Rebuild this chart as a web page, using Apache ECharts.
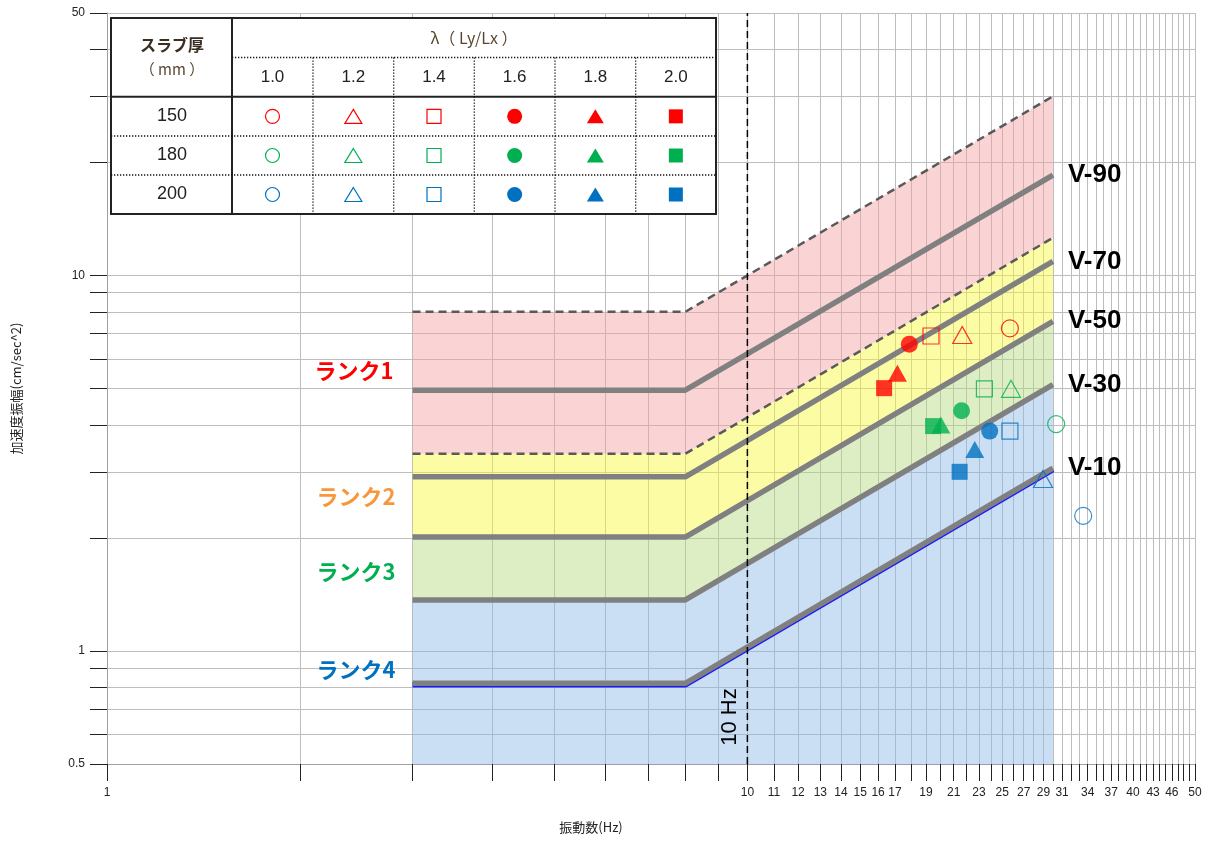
<!DOCTYPE html>
<html>
<head>
<meta charset="utf-8">
<title>振動数と加速度振幅</title>
<script src="https://cdn.jsdelivr.net/npm/echarts@6/dist/echarts.min.js"></script>
<style>
html, body { margin: 0; padding: 0; background: #fff; }
#main { width: 1211px; height: 841px; }
</style>
</head>
<body>
<div id="main"></div>
<script>
// 区切りの振動数(Hz): 3〜8Hz は一定、8〜30Hz は振動数に比例
var zoneFreq = [3, 8, 30];
var bottomLevel = [0.5, 0.5, 0.5];
var lineTop = [8, 8, 30];            // 上端(破線)
var lineRank12 = [3.35, 3.35, 12.6]; // ランク1/2 境界(破線)
var lineV90 = [4.95, 4.95, 18.5];
var lineV70 = [2.91, 2.91, 10.9];
var lineV50 = [2.01, 2.01, 7.55];
var lineV30 = [1.367, 1.367, 5.12];
var lineV10 = [0.82, 0.82, 3.07];

// 測定値 λ = 1.0, 1.2, 1.4, 1.6, 1.8, 2.0 の順
var lambdaList = ['1.0', '1.2', '1.4', '1.6', '1.8', '2.0'];
var slabList = ['150', '180', '200'];
var freq150 = [25.7, 21.65, 19.35, 17.9, 17.15, 16.35];
var acc150 = [7.23, 6.94, 6.9, 6.56, 5.49, 5.01];
var freq180 = [30.35, 25.8, 23.45, 21.6, 20.05, 19.5];
var acc180 = [4.02, 4.99, 4.99, 4.36, 4.0, 3.97];
var freq200 = [33.45, 28.95, 25.7, 23.9, 22.65, 21.45];
var acc200 = [2.29, 2.87, 3.85, 3.85, 3.44, 3.0];

// 目盛
var xTicks = [1, 2, 3, 4, 5, 6, 7, 8, 9, 10, 11, 12, 13, 14, 15, 16, 17, 18, 19, 20,
  21, 22, 23, 24, 25, 26, 27, 28, 29, 30, 31, 32, 33, 34, 35, 36, 37, 38, 39, 40,
  41, 42, 43, 44, 45, 46, 47, 48, 49, 50];
var xLabels = [1, 10, 11, 12, 13, 14, 15, 16, 17, 19, 21, 23, 25, 27, 29, 31, 34, 37, 40, 43, 46, 50];
var yTicks = [0.5, 0.6, 0.7, 0.8, 0.9, 1, 2, 3, 4, 5, 6, 7, 8, 9, 10, 20, 30, 40, 50];
var yLabels = [0.5, 1, 10, 50];
var markerFreq = [10, 10];
var markerAcc = [0.5, 50];

var slabColors = ['#ff0000', '#00b050', '#0070c0'];
var symbolShapes = ['circle', 'triangle', 'rect', 'circle', 'triangle', 'rect'];
var symbolFilled = [false, false, false, true, true, true];

var lg = function (v) { return Math.log10(v); };
var fmt = function (v) { return String(Math.round(Math.pow(10, v) * 10) / 10); };
var toPts = function (freq, acc) {
  return freq.map(function (f, i) { return [lg(f), lg(acc[i])]; });
};

// 塗り分け
var zones = [
  { lower: bottomLevel, upper: lineV30, color: 'rgba(137,182,231,0.45)' },
  { lower: lineV30, upper: lineV50, color: 'rgba(182,217,124,0.45)' },
  { lower: lineV50, upper: lineRank12, color: 'rgba(248,248,55,0.45)' },
  { lower: lineRank12, upper: lineTop, color: 'rgba(244,160,160,0.45)' }
];

function boundary(name, acc, dashed, label) {
  var s = {
    name: name,
    type: 'line',
    data: toPts(zoneFreq, acc),
    showSymbol: false,
    silent: true,
    z: dashed ? 3 : 4,
    lineStyle: dashed
      ? { color: '#595959', width: 2.5, type: [8, 5] }
      : { color: '#808080', width: 5.5 }
  };
  if (label) {
    s.endLabel = {
      show: true, formatter: label, distance: 15, color: '#000',
      fontSize: 26, fontWeight: 'bold', fontFamily: 'Liberation Sans'
    };
  }
  return s;
}

function scatterSeries(slab, freq, acc, color) {
  return {
    name: slab,
    type: 'scatter',
    z: 6,
    silent: true,
    data: toPts(freq, acc).map(function (p, i) {
      var filled = symbolFilled[i];
      var shape = symbolShapes[i];
      return {
        value: p,
        symbol: shape,
        symbolSize: shape === 'triangle' ? [19, 17] : (shape === 'rect' ? 16 : 17),
        itemStyle: {
          color: filled ? color : 'rgba(0,0,0,0)',
          borderColor: color,
          borderWidth: filled ? 0 : 1.2
        }
      };
    })
  };
}

// 表 (スラブ厚 × λ)
var colX = [111, 232, 313, 393.7, 474.3, 555, 635.7, 716];
var rowY = [18, 57.5, 96.7, 136, 175, 214];
function tableGraphics() {
  var els = [];
  var Z = 100;
  els.push({ type: 'rect', z: Z, shape: { x: colX[0], y: rowY[0], width: colX[7] - colX[0], height: rowY[5] - rowY[0] },
    style: { fill: '#fff', stroke: '#222', lineWidth: 2 } });
  els.push({ type: 'line', z: Z, shape: { x1: colX[1], y1: rowY[0], x2: colX[1], y2: rowY[5] }, style: { stroke: '#222', lineWidth: 2 } });
  els.push({ type: 'line', z: Z, shape: { x1: colX[0], y1: rowY[2], x2: colX[7], y2: rowY[2] }, style: { stroke: '#222', lineWidth: 2 } });
  var dot = { stroke: '#111', lineWidth: 1.3, lineDash: [1.3, 1.7] };
  els.push({ type: 'line', z: Z, shape: { x1: colX[1], y1: rowY[1], x2: colX[7], y2: rowY[1] }, style: dot });
  els.push({ type: 'line', z: Z, shape: { x1: colX[0], y1: rowY[3], x2: colX[7], y2: rowY[3] }, style: dot });
  els.push({ type: 'line', z: Z, shape: { x1: colX[0], y1: rowY[4], x2: colX[7], y2: rowY[4] }, style: dot });
  for (var c = 2; c < 7; c++) {
    els.push({ type: 'line', z: Z, shape: { x1: colX[c], y1: rowY[1], x2: colX[c], y2: rowY[5] }, style: dot });
  }
  function txt(t, x, y, font, fill) {
    return { type: 'text', z: Z + 1, x: x, y: y,
      style: { text: t, font: font, fill: fill || '#222', align: 'center', verticalAlign: 'middle',
        textAlign: 'center', textVerticalAlign: 'middle' } };
  }
  els.push(txt('スラブ厚', 172, 45, 'bold 16px "Noto Sans CJK JP"', '#3a2e22'));
  els.push(txt('（ mm ）', 172, 69, '15px "Noto Sans CJK JP"', '#5a4630'));
  els.push(txt('λ（ Ly/Lx ）', 474, 38, '16px "Noto Sans CJK JP"', '#5a4630'));
  for (var i = 0; i < lambdaList.length; i++) {
    var cx = (colX[i + 1] + colX[i + 2]) / 2;
    els.push(txt(lambdaList[i], cx, 77, '17px "Liberation Sans"', '#222'));
  }
  for (var r = 0; r < slabList.length; r++) {
    var cy = (rowY[r + 2] + rowY[r + 3]) / 2;
    var col = slabColors[r];
    els.push(txt(slabList[r], 172, cy, '18px "Liberation Sans"', '#222'));
    for (var j = 0; j < lambdaList.length; j++) {
      var sx = (colX[j + 1] + colX[j + 2]) / 2;
      var f = symbolFilled[j];
      var st = { fill: f ? col : 'rgba(0,0,0,0)', stroke: col, lineWidth: f ? 0 : 1.2 };
      var shp = symbolShapes[j];
      if (shp === 'circle') {
        els.push({ type: 'circle', z: Z + 1, shape: { cx: sx, cy: cy, r: f ? 7.5 : 7 }, style: st });
      } else if (shp === 'triangle') {
        els.push({ type: 'polygon', z: Z + 1, shape: { points: [[sx, cy - 7], [sx + 8.5, cy + 7], [sx - 8.5, cy + 7]] }, style: st });
      } else {
        els.push({ type: 'rect', z: Z + 1, shape: { x: sx - 7, y: cy - 7, width: 14, height: 14 }, style: st });
      }
    }
  }
  return els;
}

function rankText(t, x, y, color) {
  return { type: 'text', z: 50, x: x, y: y,
    style: { text: t, font: 'bold 22px "Noto Sans CJK JP"', fill: color, align: 'center', verticalAlign: 'middle',
      textAlign: 'center', textVerticalAlign: 'middle' } };
}

var chart = echarts.init(document.getElementById('main'));
chart.setOption({
  animation: false,
  backgroundColor: '#fff',
  grid: { left: 107, right: 16, top: 13, bottom: 77 },
  xAxis: {
    type: 'value', min: lg(1), max: lg(50),
    name: '振動数(Hz)', nameLocation: 'middle', nameGap: 57,
    nameTextStyle: { color: '#222', fontSize: 13, fontFamily: 'Noto Sans CJK JP', padding: [0, 120, 0, 0] },
    axisLine: { show: true, onZero: false, lineStyle: { color: '#a0a0a0', width: 1 } },
    axisTick: { show: true, customValues: xTicks.map(lg), length: 17, lineStyle: { color: '#222', width: 1 } },
    axisLabel: { customValues: xLabels.map(lg), formatter: fmt, margin: 23, color: '#222', fontSize: 12, fontFamily: 'Liberation Sans' },
    splitLine: { show: true, lineStyle: { color: '#bdbdbd', width: 1 } }
  },
  yAxis: {
    type: 'value', min: lg(0.5), max: lg(50),
    name: '加速度振幅(cm/sec^2)', nameLocation: 'middle', nameGap: 84,
    nameTextStyle: { color: '#222', fontSize: 13, fontFamily: 'Noto Sans CJK JP' },
    axisLine: { show: true, onZero: false, lineStyle: { color: '#a0a0a0', width: 1 } },
    axisTick: { show: true, customValues: yTicks.map(lg), length: 17, lineStyle: { color: '#222', width: 1 } },
    axisLabel: { customValues: yLabels.map(lg), formatter: fmt, margin: 22, color: '#222', fontSize: 12, fontFamily: 'Liberation Sans' },
    splitLine: { show: true, lineStyle: { color: '#bdbdbd', width: 1 } }
  },
  series: [
    {
      type: 'custom',
      silent: true,
      z: 1,
      data: zones.map(function (zn, i) { return [lg(zoneFreq[0]), lg(zn.lower[0]), i]; }),
      renderItem: function (params, api) {
        var zn = zones[api.value(2)];
        var pts = [];
        for (var k = 0; k < zoneFreq.length; k++) pts.push(api.coord([lg(zoneFreq[k]), lg(zn.upper[k])]));
        for (var m = zoneFreq.length - 1; m >= 0; m--) pts.push(api.coord([lg(zoneFreq[m]), lg(zn.lower[m])]));
        return { type: 'polygon', shape: { points: pts }, style: { fill: zn.color } };
      }
    },
    boundary('top', lineTop, true),
    boundary('rank12', lineRank12, true),
    boundary('V-90', lineV90, false, 'V-90'),
    boundary('V-70', lineV70, false, 'V-70'),
    boundary('V-50', lineV50, false, 'V-50'),
    boundary('V-30', lineV30, false, 'V-30'),
    (function () {
      var s = boundary('V-10', lineV10, false, 'V-10');
      s.lineStyle.shadowColor = '#1a1aff';
      s.lineStyle.shadowOffsetY = 1.5;
      s.lineStyle.shadowBlur = 0;
      return s;
    })(),
    {
      name: '10Hz', type: 'line', silent: true, showSymbol: false, z: 5,
      data: toPts(markerFreq, markerAcc),
      lineStyle: { color: '#000', width: 1.5, type: [7, 4] }
    },
    scatterSeries('150', freq150, acc150, slabColors[0]),
    scatterSeries('180', freq180, acc180, slabColors[1]),
    scatterSeries('200', freq200, acc200, slabColors[2])
  ],
  graphic: tableGraphics().concat([
    rankText('ランク1', 354, 371, '#ff0000'),
    rankText('ランク2', 356, 497, '#f9963a'),
    rankText('ランク3', 356, 572, '#00b050'),
    rankText('ランク4', 356, 670, '#0070c0'),
    { type: 'text', z: 50, x: 730, y: 717, rotation: Math.PI / 2,
      style: { text: '10 Hz', font: '22px "Liberation Sans"', fill: '#000', align: 'center', verticalAlign: 'middle',
        textAlign: 'center', textVerticalAlign: 'middle' } }
  ])
});
</script>
</body>
</html>
